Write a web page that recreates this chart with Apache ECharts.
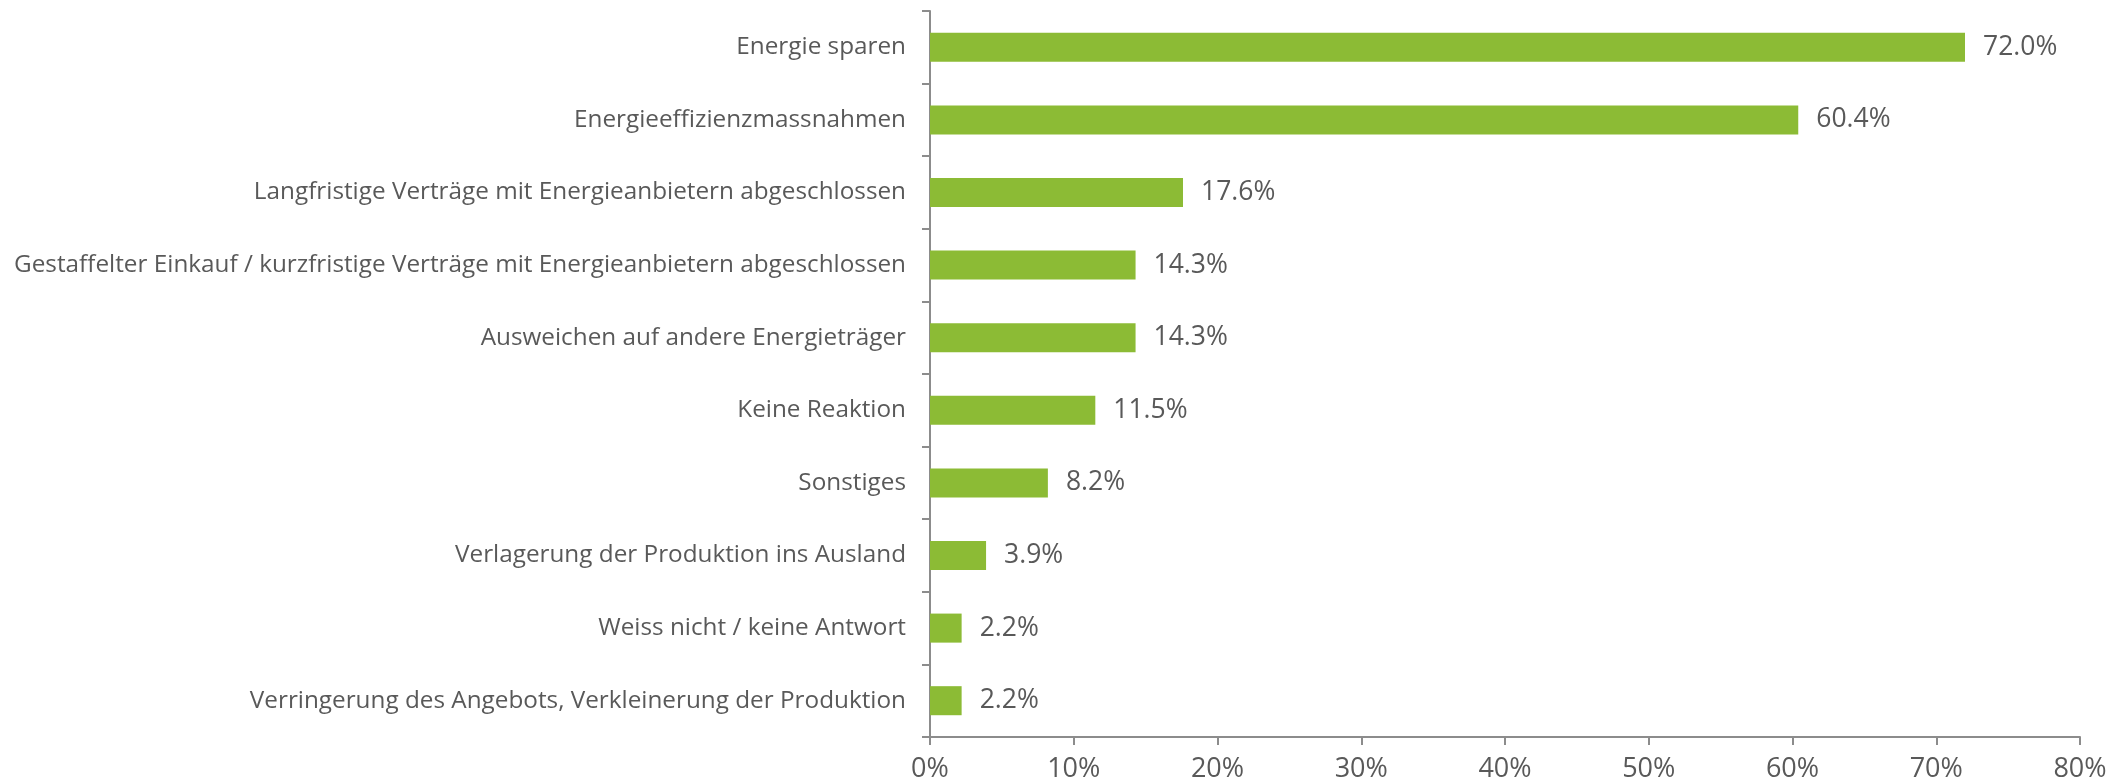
<!DOCTYPE html>
<html><head><meta charset="utf-8">
<script src="https://cdn.jsdelivr.net/npm/echarts@6/dist/echarts.min.js"></script>
<style>html,body{margin:0;padding:0;background:#fff}#c{width:2113px;height:783px}</style>
</head><body><div id="c"></div>
<script>
const categories = [
  "Energie sparen",
  "Energieeffizienzmassnahmen",
  "Langfristige Verträge mit Energieanbietern abgeschlossen",
  "Gestaffelter Einkauf / kurzfristige Verträge mit Energieanbietern abgeschlossen",
  "Ausweichen auf andere Energieträger",
  "Keine Reaktion",
  "Sonstiges",
  "Verlagerung der Produktion ins Ausland",
  "Weiss nicht / keine Antwort",
  "Verringerung des Angebots, Verkleinerung der Produktion"
];
const values = [72.0, 60.4, 17.6, 14.3, 14.3, 11.5, 8.2, 3.9, 2.2, 2.2];
const xTicks = [0, 10, 20, 30, 40, 50, 60, 70, 80];

const FONT = '"Open Sans", "Noto Sans", sans-serif';
const TXT = '#595959';
const AX = '#8c8c8c';
const chart = echarts.init(document.getElementById('c'), null, {renderer: 'canvas'});
chart.setOption({
  animation: false,
  grid: {left: 930, right: 33, top: 11, bottom: 44, containLabel: false},
  xAxis: {
    type: 'value', min: xTicks[0], max: xTicks[xTicks.length - 1], interval: 10,
    splitLine: {show: false},
    axisLine: {show: true, lineStyle: {color: AX, width: 2}},
    axisTick: {show: true, length: 8, lineStyle: {color: AX, width: 2}},
    axisLabel: {color: TXT, fontFamily: FONT, fontSize: 27, margin: 19, formatter: v => v + '%'}
  },
  yAxis: {
    type: 'category', data: categories, inverse: true,
    axisLine: {show: true, lineStyle: {color: AX, width: 2}},
    axisTick: {show: true, length: 8, lineStyle: {color: AX, width: 2}},
    axisLabel: {color: TXT, fontFamily: FONT, fontSize: 24.3, margin: 24}
  },
  series: [{
    type: 'bar', data: values, barCategoryGap: '60%',
    itemStyle: {color: '#8cbb35'},
    label: {show: true, position: 'right', distance: 18, color: TXT, fontFamily: FONT, fontSize: 26.5,
      formatter: p => p.value.toFixed(1) + '%'}
  }]
});
</script></body></html>
